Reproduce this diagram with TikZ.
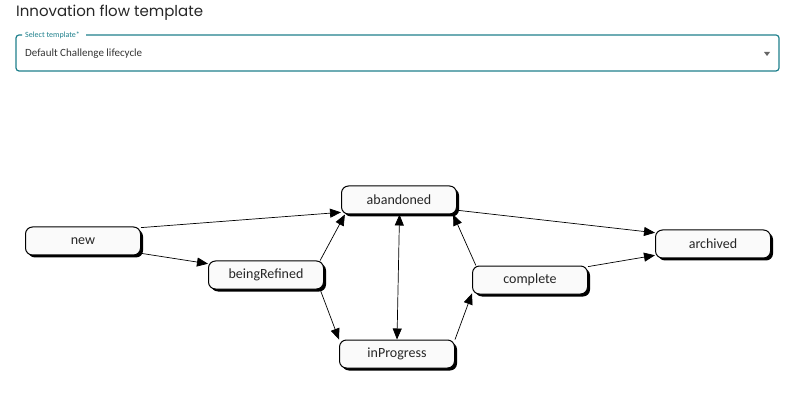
\documentclass[tikz,border=0pt]{standalone}
\usepackage{fontspec}
\setmainfont{Carlito}
\newfontfamily\titlefont{Poppins}
\usetikzlibrary{arrows.meta,shadows}

\definecolor{selectteal}{RGB}{30,128,140}
\definecolor{statefill}{RGB}{250,250,250}
\newcommand\flowtitlestyle{\titlefont\fontsize{15}{18}\selectfont\color{black!85}}
\newcommand\flowlabelstyle{\fontsize{8}{9}\selectfont\color{selectteal}}
\newcommand\flowvaluestyle{\fontsize{11}{13}\selectfont\color{black!80}}
\newcommand\flowstatestyle{\fontsize{14}{16}\selectfont\color{black!85}}

\tikzset{
  flowstate/.style={draw, line width=1pt, fill=statefill, rounded corners=7pt,
    minimum width=115pt, minimum height=28pt, inner sep=0pt,
    drop shadow={shadow xshift=2.5pt, shadow yshift=-2.5pt, fill=black, opacity=1},
    font=\flowstatestyle},
  flowedge/.style={draw, line width=0.7pt, -{Triangle[length=11pt,width=9pt]}},
  flowboth/.style={draw, line width=0.7pt, {Triangle[length=11pt,width=9pt]}-{Triangle[length=11pt,width=9pt]}}
}

\begin{document}
\begin{tikzpicture}[x=1pt, y=-1pt]
    \useasboundingbox (0,0) rectangle (799,411);
    % header and template selector
    \node[anchor=base west, inner sep=0pt] (title) at (16,17) {\flowtitlestyle Innovation flow template};
    \draw[selectteal, line width=1.2pt, rounded corners=3pt]
      (22,35) -- (16,35) -- (16,71) -- (779,71) -- (779,35) -- (86,35);
    \node[anchor=west, inner sep=0pt] (selectlabel) at (25,35) {\flowlabelstyle Select template*};
    \node[anchor=base west, inner sep=0pt] (selectvalue) at (25,57) {\flowvaluestyle Default Challenge lifecycle};
    \fill[black!60] (764,52) -- (770,52) -- (767,56) -- cycle;
    % states
    \node[flowstate] (new) at (83,241) {new};
    \node[flowstate] (beingRefined) at (266,275) {beingRefined};
    \node[flowstate] (abandoned) at (399,200) {abandoned};
    \node[flowstate] (inProgress) at (397,354) {inProgress};
    \node[flowstate] (complete) at (530,280) {complete};
    \node[flowstate] (archived) at (713,244) {archived};
    % transitions
    \path[flowedge] (new.13) -- (abandoned.192);
    \path[flowedge] (new.348) -- (beingRefined.169);
    \path[flowedge] (beingRefined.15) -- (abandoned.195);
    \path[flowedge] (beingRefined.345) -- (inProgress.166);
    \path[flowboth] (abandoned.272) -- (inProgress.north);
    \path[flowedge] (inProgress.14) -- (complete.193);
    \path[flowedge] (complete.165) -- (abandoned.345);
    \path[flowedge] (abandoned.350) -- (archived.169);
    \path[flowedge] (complete.13) -- (archived.191);
  \end{tikzpicture}
\end{document}
